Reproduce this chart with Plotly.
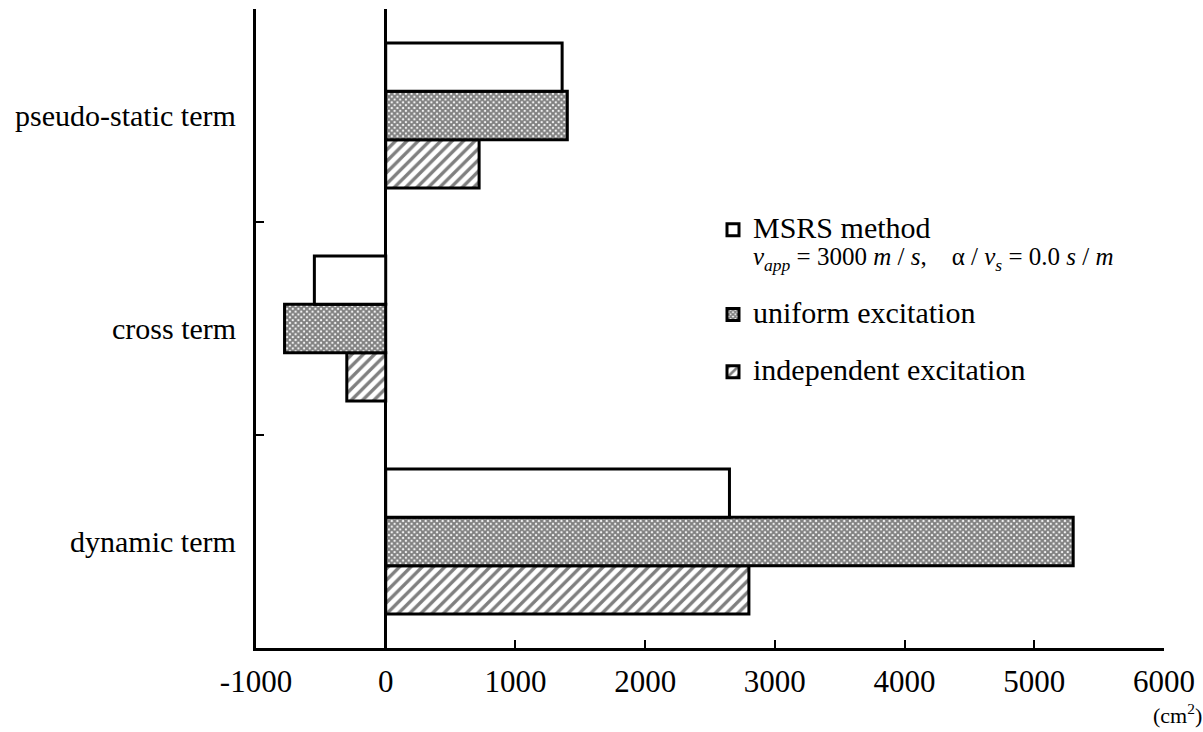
import plotly.graph_objects as go

# Terms of the response, bottom to top on the chart
terms = ["dynamic term", "cross term", "pseudo-static term"]

# Values per method (cm^2), same order as terms
msrs = [2650, -550, 1360]
uniform = [5300, -780, 1400]
independent = [2800, -300, 720]

x_ticks = [-1000, 0, 1000, 2000, 3000, 4000, 5000, 6000]

serif = "Liberation Serif"
big = "<span style='font-size:30px'>{}</span>"
msrs_name = (big.format("MSRS method") + "<br><span style='font-size:25px'>"
             "<i>v</i><sub><i>app</i></sub> = 3000 <i>m</i> / <i>s</i>,"
             "&nbsp;&nbsp;&nbsp;&nbsp;α / <i>v</i><sub><i>s</i></sub> = 0.0 <i>s</i> / <i>m</i></span>")

line = dict(color="black", width=3)

fig = go.Figure()
fig.add_trace(go.Bar(
    y=terms, x=independent, orientation="h", name=big.format("independent excitation"),
    legendgroup="c", legendrank=3,
    marker=dict(color="white", line=line,
                pattern=dict(shape="/", size=8, solidity=0.42, fgcolor="black", bgcolor="white")),
))
fig.add_trace(go.Bar(
    y=terms, x=uniform, orientation="h", name=big.format("uniform excitation"),
    legendgroup="b", legendrank=2,
    marker=dict(color="white", line=line,
                pattern=dict(shape="x", size=4, solidity=0.75, fgcolor="black", bgcolor="white")),
))
fig.add_trace(go.Bar(
    y=terms, x=msrs, orientation="h", name=msrs_name,
    legendgroup="a", legendrank=1,
    marker=dict(color="white", line=line),
))

# Term labels to the left of the axis, one per group of bars
for t in terms:
    fig.add_annotation(x=0, xref="paper", xanchor="right", xshift=-18,
                       y=t, yref="y", showarrow=False,
                       text=t, font=dict(family=serif, size=30, color="black"))

fig.add_annotation(x=6000, xref="x", xshift=13, y=0, yref="paper", yshift=-66,
                   text="(cm<sup>2</sup>)", showarrow=False, xanchor="center", yanchor="middle",
                   font=dict(family=serif, size=22, color="black"))

fig.update_layout(
    width=1203, height=732,
    margin=dict(l=256, r=39, t=9, b=84),
    paper_bgcolor="white", plot_bgcolor="white",
    barmode="group", bargap=0.32, bargroupgap=0,
    font=dict(family=serif, size=30, color="black"),
    showlegend=True,
    legend=dict(x=0.5033, y=0.686, xanchor="left", yanchor="top",
                traceorder="grouped", tracegroupgap=27, valign="top",
                bgcolor="rgba(0,0,0,0)", font=dict(family=serif, size=21)),
    xaxis=dict(range=[-1000, 6000], tickvals=x_ticks,
               ticktext=[str(v) for v in x_ticks],
               showgrid=False, showline=True, linecolor="black", linewidth=3,
               ticks="inside", ticklen=8, tickwidth=2, tickcolor="black",
               ticklabelstandoff=4,
               zeroline=True, zerolinecolor="black", zerolinewidth=3,
               tickfont=dict(family=serif, size=31)),
    yaxis=dict(type="category", categoryorder="array", categoryarray=terms,
               range=[-0.5, 2.5], showgrid=False, showline=True, linecolor="black",
               linewidth=3, showticklabels=False, ticks="inside", ticklen=8,
               tickwidth=2, tickcolor="black", tickson="boundaries"),
)

fig.write_html("out.html")
